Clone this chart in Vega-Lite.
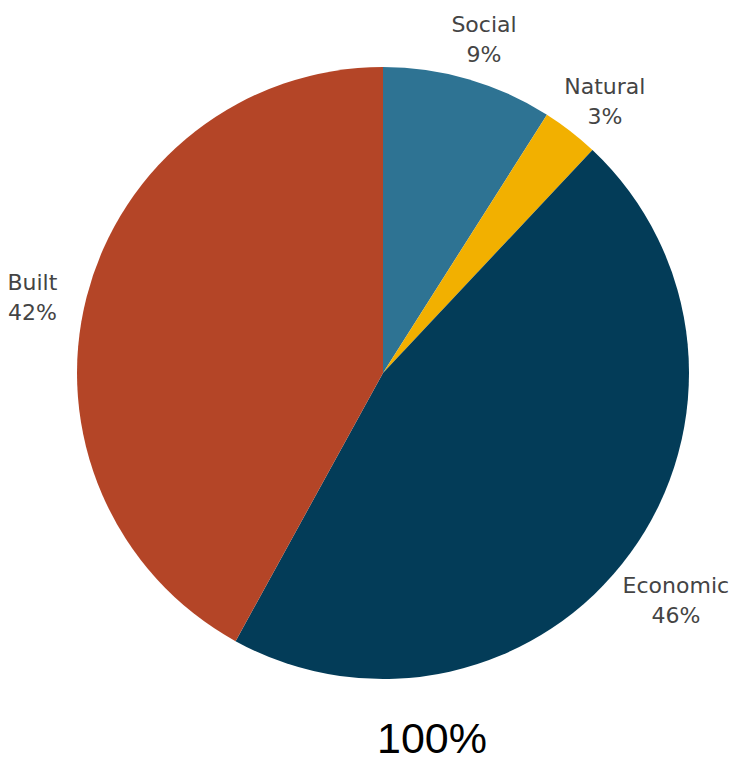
{
  "$schema": "https://vega.github.io/schema/vega-lite/v6.json",
  "autosize": "none",
  "width": 752,
  "height": 700,
  "padding": {"left": 7, "top": 23, "right": 0, "bottom": 43},
  "background": "white",
  "config": {"view": {"stroke": null}},
  "title": {
    "text": "100%",
    "orient": "bottom",
    "anchor": "middle",
    "dx": 49,
    "offset": 30,
    "baseline": "alphabetic",
    "font": "Liberation Sans",
    "fontSize": 43,
    "fontWeight": "normal",
    "color": "#000000"
  },
  "data": {
    "values": [
      {"category": "Social", "value": 9},
      {"category": "Natural", "value": 3},
      {"category": "Economic", "value": 46},
      {"category": "Built", "value": 42}
    ]
  },
  "transform": [
    {"calculate": "datum.category + '\\n' + datum.value + '%'", "as": "label"}
  ],
  "encoding": {
    "theta": {"field": "value", "type": "quantitative", "stack": true},
    "order": {"field": "idx", "type": "quantitative"}
  },
  "layer": [
    {
      "mark": {"type": "arc", "outerRadius": 306, "stroke": null},
      "encoding": {
        "color": {
          "field": "category",
          "type": "nominal",
          "scale": {
            "domain": ["Social", "Natural", "Economic", "Built"],
            "range": ["#2e7393", "#f2b000", "#033c58", "#b44527"]
          },
          "legend": null
        }
      }
    },
    {
      "mark": {
        "type": "text",
        "radius": 362,
        "font": "DejaVu Sans",
        "fontSize": 22,
        "color": "#444444",
        "lineBreak": "\n",
        "lineHeight": 30,
        "align": "center",
        "baseline": "middle"
      },
      "encoding": {
        "text": {"field": "label"}
      }
    }
  ]
}
